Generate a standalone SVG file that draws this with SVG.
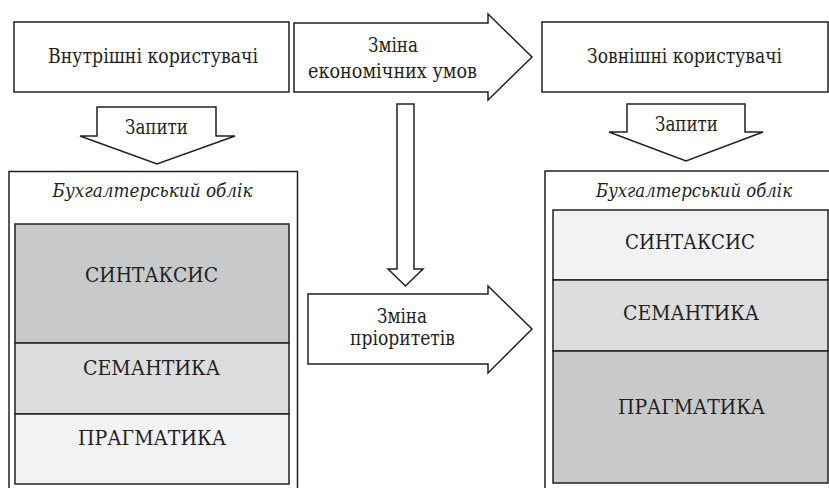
<svg xmlns="http://www.w3.org/2000/svg" width="829" height="488" viewBox="0 0 829 488">
<style>
.box{fill:#ffffff;stroke:#231f20;stroke-width:1.5}
.frame{fill:#ffffff;stroke:#231f20;stroke-width:1.5}
.arrow{fill:#ffffff;stroke:#231f20;stroke-width:1.5;stroke-linejoin:miter}
.dark{fill:#c8c9cb;stroke:#231f20;stroke-width:1.5}
.mid{fill:#dcdddf;stroke:#231f20;stroke-width:1.5}
.light{fill:#f1f2f4;stroke:#231f20;stroke-width:1.5}
text{font-family:'DejaVu Serif','Liberation Serif',serif;font-size:20px;fill:#231f20;text-anchor:middle}
.it{font-style:italic;font-size:19px}
</style>
<rect width="829" height="488" fill="#ffffff"/>
<g id="internal-users">
<rect class="box" x="14" y="22" width="275" height="70"/>
<text x="153" y="63" textLength="210" lengthAdjust="spacingAndGlyphs">Внутрішні користувачі</text>
</g>
<g id="external-users">
<rect class="box" x="542" y="22" width="286" height="70"/>
<text x="684.5" y="63" textLength="195" lengthAdjust="spacingAndGlyphs">Зовнішні користувачі</text>
</g>
<g id="internal-accounting">
<path class="frame" d="M9,488 V171.5 H297.5 V488"/>
<text class="it" x="152.5" y="197" textLength="200" lengthAdjust="spacingAndGlyphs">Бухгалтерський облік</text>
<rect class="dark" x="15" y="224" width="274" height="119"/>
<text x="151.5" y="282" textLength="133" lengthAdjust="spacingAndGlyphs">СИНТАКСИС</text>
<rect class="mid" x="15" y="343" width="274" height="71"/>
<text x="151.5" y="375" textLength="137" lengthAdjust="spacingAndGlyphs">СЕМАНТИКА</text>
<rect class="light" x="15" y="414" width="274" height="70"/>
<text x="152" y="445" textLength="148" lengthAdjust="spacingAndGlyphs">ПРАГМАТИКА</text>
</g>
<g id="external-accounting">
<path class="frame" d="M829,171 H545 V488"/>
<text class="it" x="694" y="197" textLength="196" lengthAdjust="spacingAndGlyphs">Бухгалтерський облік</text>
<rect class="light" x="553" y="210" width="275" height="70"/>
<text x="690" y="249" textLength="130" lengthAdjust="spacingAndGlyphs">СИНТАКСИС</text>
<rect class="mid" x="553" y="280" width="275" height="71"/>
<text x="691" y="320" textLength="136" lengthAdjust="spacingAndGlyphs">СЕМАНТИКА</text>
<rect class="dark" x="553" y="351" width="275" height="132"/>
<text x="691.5" y="414" textLength="147" lengthAdjust="spacingAndGlyphs">ПРАГМАТИКА</text>
</g>
<g id="connectors">
<g id="arrow-economic">
<polygon class="arrow" points="294,23 488,23 488,14 532,57 488,100 488,92 294,92"/>
<text x="393" y="52" textLength="50" lengthAdjust="spacingAndGlyphs">Зміна</text>
<text x="392.5" y="78" textLength="169" lengthAdjust="spacingAndGlyphs">економічних умов</text>
</g>
<g id="arrow-down">
<polygon class="arrow" points="397,104 414,104 414,269 423,269 405.5,286 388,269 397,269"/>
</g>
<g id="arrow-priorities">
<polygon class="arrow" points="308,294 488,294 488,286 532,329 488,373 488,364 308,364"/>
<text x="402" y="323" textLength="50" lengthAdjust="spacingAndGlyphs">Зміна</text>
<text x="402.5" y="345" textLength="105" lengthAdjust="spacingAndGlyphs">пріоритетів</text>
</g>
<g id="query-left">
<polygon class="arrow" points="97,107 216,107 216,136 235,136 157,164 80,136 97,136"/>
<text x="156.5" y="134" textLength="63" lengthAdjust="spacingAndGlyphs">Запити</text>
</g>
<g id="query-right">
<polygon class="arrow" points="627,104 745,104 745,132 763,132 686,161 609,132 627,132"/>
<text x="686.5" y="131" textLength="63" lengthAdjust="spacingAndGlyphs">Запити</text>
</g>
</g>
</svg>
